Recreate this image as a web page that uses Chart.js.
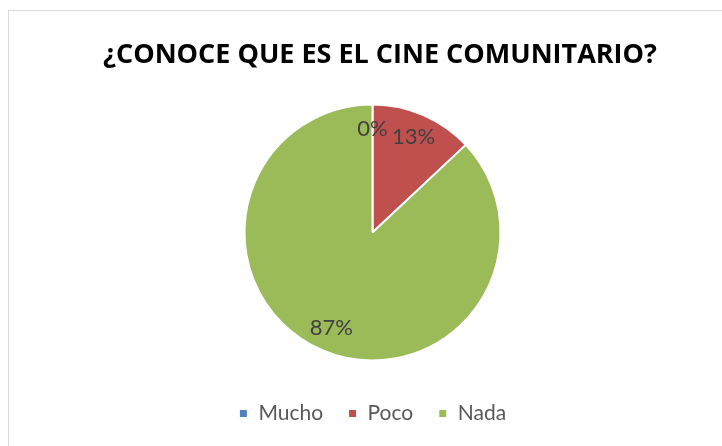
<!DOCTYPE html>
<html>
<head>
<meta charset="utf-8">
<script src="https://cdn.jsdelivr.net/npm/chart.js@4"></script>
<style>
  body { margin: 0; background: #fff; }
  #wrap { position: relative; width: 722px; height: 446px; overflow: hidden; }
  #frame { position: absolute; left: 8px; top: 10px; width: 800px; height: 500px; border: 1px solid #d9d9d9; }
  canvas { position: absolute; left: 0; top: 0; }
</style>
</head>
<body>
<div id="wrap">
  <div id="frame"></div>
  <canvas id="pie-chart" width="722" height="446"></canvas>
</div>
<script>
const titleText = "¿CONOCE QUE ES EL CINE COMUNITARIO?";
const labels = ["Mucho", "Poco", "Nada"];
const values = [0, 13, 87];
const colors = ["#4F81BD", "#C0504D", "#9BBB59"];

// title + percentage labels drawn by hand
const textPlugin = {
  id: "textPlugin",
  afterDraw(chart) {
    const ctx = chart.ctx;
    ctx.save();
    ctx.fillStyle = "#000";
    ctx.font = "bold 27px 'Open Sans'";
    ctx.textAlign = "center";
    ctx.textBaseline = "middle";
    ctx.fillText(titleText, 380, 55);

    ctx.font = "22px Lato";
    ctx.fillStyle = "#404040";
    const meta = chart.getDatasetMeta(0);
    meta.data.forEach((arc, i) => {
      const mid = (arc.startAngle + arc.endAngle) / 2;
      const r = arc.outerRadius * 0.81;
      const x = arc.x + Math.cos(mid) * r;
      const y = arc.y + Math.sin(mid) * r;
      ctx.fillText(values[i] + "%", x, y);
    });
    ctx.restore();
  }
};

const data = {
  labels: labels,
  datasets: [{
    data: values,
    backgroundColor: colors,
    borderColor: "#fff",
    borderWidth: 2,
    hoverOffset: 0,
    radius: 128
  }]
};

const config = {
  type: "pie",
  data: data,
  options: {
    responsive: false,
    animation: false,
    layout: { padding: { top: 87, bottom: 12, left: 23, right: 0 } },
    plugins: {
      title: { display: false },
      tooltip: { enabled: false },
      legend: {
        position: "bottom",
        labels: {
          boxWidth: 9,
          boxHeight: 9,
          padding: 25,
          color: "#595959",
          font: { family: "Lato", size: 21 }
        }
      }
    }
  },
  plugins: [textPlugin]
};

const myChart = new Chart(document.getElementById("pie-chart"), config);
</script>
</body>
</html>
